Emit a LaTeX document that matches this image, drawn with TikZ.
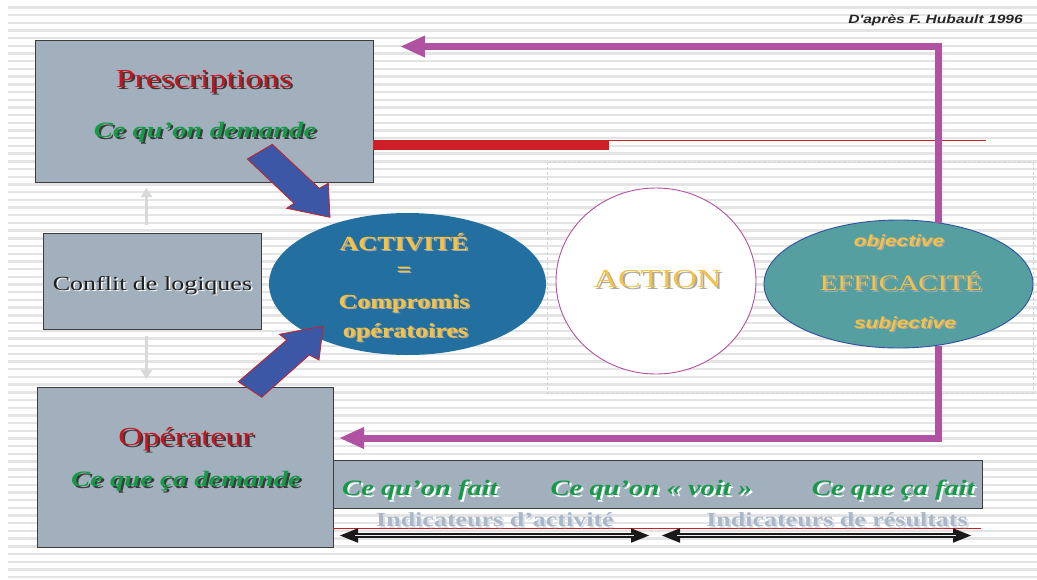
\documentclass[tikz,border=0pt]{standalone}
\usepackage{fontspec}
\setmainfont{Liberation Serif}[FakeStretch=1.3]
\newfontfamily\sansst{Liberation Sans}[FakeStretch=1.3]
\usetikzlibrary{shapes.geometric,arrows.meta}
\definecolor{stripe}{HTML}{E4E4E4}
\definecolor{boxfill}{HTML}{A2B0BE}
\definecolor{boxline}{HTML}{3C3C3C}
\definecolor{redtxt}{HTML}{C8141E}
\definecolor{greentxt}{HTML}{169A48}
\definecolor{goldtxt}{HTML}{F6C244}
\definecolor{actblue}{HTML}{2370A0}
\definecolor{effteal}{HTML}{559FA0}
\definecolor{effline}{HTML}{3050A0}
\definecolor{purp}{HTML}{B052A2}
\definecolor{blockblue}{HTML}{3D57A7}
\definecolor{redbar}{HTML}{CC1F26}
\definecolor{indtxt}{HTML}{A9B7C8}
\definecolor{indsh}{HTML}{D6DDE5}
\definecolor{darksh}{HTML}{3A3A3A}
\definecolor{goldsh}{HTML}{A8A8A8}
\definecolor{grayarrow}{HTML}{D9D9D9}
\definecolor{dashgray}{HTML}{D2D2D2}
\newcommand{\shadowed}[7]{%
  \node[#6,text=#4,xshift=#5pt,yshift=-#5pt] (#1-s) at (#2,#3) {#7};
  \node[#6] (#1) at (#2,#3) {#7};}
\begin{document}
\begin{tikzpicture}[x=1pt,y=-1pt,
  boxst/.style={draw=boxline,fill=boxfill,line width=1.2pt,inner sep=0,anchor=north west},
  ttl/.style={anchor=base,inner sep=0,font=\fontsize{26}{30}\selectfont,text=redtxt},
  grn/.style={anchor=base,inner sep=0,font=\fontsize{22}{26}\selectfont\bfseries\itshape,text=greentxt},
  gld/.style={anchor=base,inner sep=0,font=\fontsize{20}{24}\selectfont\bfseries,text=goldtxt},
  gldbig/.style={anchor=base,inner sep=0,font=\fontsize{26}{30}\selectfont,text=goldtxt},
  gldeff/.style={anchor=base,inner sep=0,font=\fontsize{22}{26}\selectfont,text=goldtxt},
  gldsans/.style={anchor=base,inner sep=0,font=\sansst\fontsize{16}{20}\selectfont\bfseries\itshape,text=goldtxt},
  conf/.style={anchor=base,inner sep=0,font=\fontsize{20}{24}\selectfont,text=black!88},
  ind/.style={anchor=base,inner sep=0,font=\fontsize{20}{24}\selectfont\bfseries,text=indtxt},
  purpline/.style={draw=purp,line width=7pt,miter limit=10,-{Triangle[length=25pt,width=20pt]}},
  blockarr/.style={fill=blockblue,draw=redbar,line width=0.8pt,line join=miter},
  grayarr/.style={draw=grayarrow,line width=3.5pt,-{Triangle[length=9pt,width=11pt]}},
  blkarr/.style={draw=black!90,line width=4.5pt,{Triangle[length=19pt,width=13pt]}-{Triangle[length=19pt,width=13pt]}},
  gapline/.style={draw=white!85!gray,line width=1.3pt,shorten <=16pt,shorten >=16pt}
]
\useasboundingbox (0,0) rectangle (1037,579);
\fill[white] (0,0) rectangle (1037,579);
\foreach \k in {0,...,74} \fill[stripe] (8,{7.3+7.7*\k-1.2}) rectangle (1037,{7.3+7.7*\k+1.2});
% dashed frame
\draw[dashgray,line width=0.8pt,dash pattern=on 3pt off 2pt] (547,162) rectangle (1033,393);
% boxes
\node[boxst,minimum width=338,minimum height=142] (pres) at (35,40) {};
\node[boxst,minimum width=218,minimum height=96] (confl) at (43,233) {};
\node[boxst,minimum width=649,minimum height=48] (strip) at (333,460) {};
\node[boxst,minimum width=296,minimum height=160] (oper) at (37,387) {};
% red lines
\coordinate (rb1) at (373,140);
\coordinate (rb2) at (609,150);
\coordinate (rl1) at (609,140.5);
\coordinate (rl2) at (986,140.5);
\fill[redbar] (rb1) rectangle (rb2);
\draw[redbar,line width=1pt] (rl1) -- (rl2);
\coordinate (bl1) at (333,528);
\coordinate (bl2) at (981,528);
\draw[redbar,line width=0.9pt] (bl1) -- (bl2);
% ellipses
\node[ellipse,fill=actblue,minimum width=277,minimum height=142,inner sep=0] (act) at (407.5,284) {};
\node[ellipse,fill=white,draw=purp,line width=0.9pt,minimum width=200,minimum height=186,inner sep=0] (action) at (656,281) {};
\node[ellipse,fill=effteal,draw=effline,line width=0.9pt,minimum width=269,minimum height=128,inner sep=0] (eff) at (898.5,284) {};
% purple arrows
\coordinate (pa1) at (938.5,222.5);
\coordinate (pa2) at (938.5,46.5);
\coordinate (pa3) at (400,46.5);
\draw[purpline] (pa1) -- (pa2) -- (pa3);
\coordinate (pb1) at (938.5,345.5);
\coordinate (pb2) at (938.5,438);
\coordinate (pb3) at (339,438);
\draw[purpline] (pb1) -- (pb2) -- (pb3);
% block arrows
\filldraw[blockarr] (272.3,144.3) -- (319.3,188.3) -- (328.3,183.3) -- (330,217.3) -- (286.7,208.3) -- (294,203.3) -- (247.3,159) -- cycle;
\filldraw[blockarr] (238.3,381.7) -- (286.7,340) -- (279.3,334.3) -- (323.3,326) -- (319,360) -- (309.3,355) -- (261.7,397.3) -- cycle;
% gray arrows
\coordinate (ga1) at (146.5,225);
\coordinate (ga2) at (146.5,188);
\coordinate (gb1) at (146.5,336);
\coordinate (gb2) at (146.5,379);
\draw[grayarr] (ga1) -- (ga2);
\draw[grayarr] (gb1) -- (gb2);
% black arrows
\coordinate (ia1) at (339,535.5);
\coordinate (ia2) at (650,535.5);
\coordinate (ib1) at (661,535.5);
\coordinate (ib2) at (972,535.5);
\draw[blkarr] (ia1) -- (ia2);
\draw[gapline] (ia1) -- (ia2);
\draw[blkarr] (ib1) -- (ib2);
\draw[gapline] (ib1) -- (ib2);
% texts
\shadowed{tpres}{204}{87}{darksh}{2}{ttl}{Prescriptions}
\shadowed{tdem}{205}{137}{darksh}{2}{grn}{Ce qu’on demande}
\shadowed{tconf}{152.5}{290}{white}{1.5}{conf}{Conflit de logiques}
\shadowed{tact}{404}{250}{goldsh}{1.5}{gld}{ACTIVITÉ}
\shadowed{teq}{404}{276}{goldsh}{1.5}{gld}{=}
\shadowed{tcomp}{404}{308}{goldsh}{1.5}{gld}{Compromis}
\shadowed{topr}{405.5}{337}{goldsh}{1.5}{gld}{opératoires}
\shadowed{taction}{657.5}{287}{goldsh}{2}{gldbig}{ACTION}
\shadowed{tobj}{899}{246}{goldsh}{1.5}{gldsans}{objective}
\shadowed{teff}{901}{290}{goldsh}{2}{gldeff}{EFFICACITÉ}
\shadowed{tsubj}{905}{328}{goldsh}{1.5}{gldsans}{subjective}
\shadowed{toper}{186}{445}{darksh}{2}{ttl}{Opérateur}
\shadowed{tcqd}{186}{486}{darksh}{2}{grn}{Ce que ça demande}
\shadowed{tfait}{342}{495}{white}{2}{grn,anchor=base west}{Ce qu’on fait}
\shadowed{tvoit}{651.5}{495}{white}{2}{grn}{Ce qu’on « voit »}
\shadowed{tcqf}{975}{495}{white}{2}{grn,anchor=base east}{Ce que ça fait}
\shadowed{tind1}{495}{526}{indsh}{2}{ind}{Indicateurs d’activité}
\shadowed{tind2}{837}{526}{indsh}{2}{ind}{Indicateurs de résultats}
\node[anchor=base east,inner sep=0,font=\sansst\fontsize{12}{14}\selectfont\bfseries\itshape,text=black!85] (src) at (1023,23) {D'après F. Hubault 1996};
\end{tikzpicture}
\end{document}
